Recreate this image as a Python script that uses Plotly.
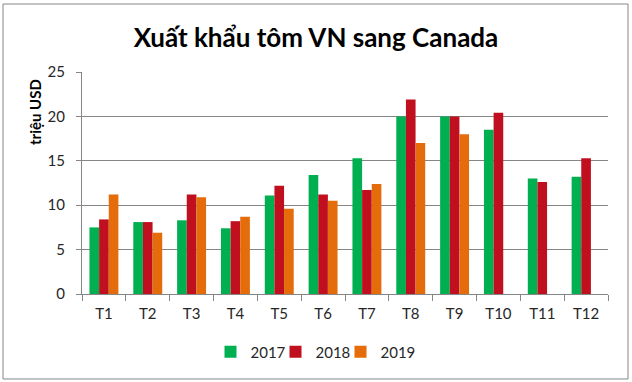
import plotly.graph_objects as go

months = ["T1", "T2", "T3", "T4", "T5", "T6", "T7", "T8", "T9", "T10", "T11", "T12"]
v2017 = [7.5, 8.1, 8.3, 7.4, 11.1, 13.4, 15.3, 20.0, 20.0, 18.5, 13.0, 13.2]
v2018 = [8.4, 8.1, 11.2, 8.2, 12.2, 11.2, 11.7, 21.9, 20.0, 20.4, 12.6, 15.3]
v2019 = [11.2, 6.9, 10.9, 8.7, 9.6, 10.5, 12.4, 17.0, 18.0, None, None, None]
series_names = ["2017", "2018", "2019"]
colors = ["#00B050", "#C0101F", "#E46C0A"]

W, H = 632, 382
L, R, T, B = 82, 24, 72, 88  # plot area margins in px
pw, ph = W - L - R, H - T - B

fig = go.Figure()
for name, vals, c in zip(series_names, [v2017, v2018, v2019], colors):
    fig.add_trace(go.Bar(x=months, y=vals, name=name, marker=dict(color=c, line=dict(width=0))))
# invisible spacer entry so the last legend label is not clipped with compact entry widths
fig.add_trace(go.Scatter(x=[None], y=[None], mode="lines", name=" ",
                         line=dict(color="rgba(0,0,0,0)", width=0),
                         hoverinfo="skip", showlegend=True))

font_family = "Lato, Open Sans, sans-serif"

def px_x(p):
    return (p - L) / pw

def px_y(q):
    return (T + ph - q) / ph

fig.update_layout(
    width=W, height=H,
    margin=dict(l=L, r=R, t=T, b=B),
    paper_bgcolor="white", plot_bgcolor="white",
    barmode="group", bargap=0.34, bargroupgap=0,
    font=dict(family=font_family, size=15, color="#262626"),
    title=dict(text="<b>Xuất khẩu tôm VN sang Canada</b>", x=0.5, xref="container", xanchor="center",
               y=1 - 38 / H, yref="container", yanchor="middle",
               font=dict(family=font_family, size=26, color="black")),
    xaxis=dict(showline=True, linecolor="#868686", linewidth=1, ticks="outside", tickson="boundaries",
               ticklen=6, tickcolor="#868686", showgrid=False, ticklabelstandoff=6),
    yaxis=dict(range=[0, 25], dtick=5, showline=True, linecolor="#868686", linewidth=1,
               ticks="outside", ticklen=5, tickcolor="#868686", gridcolor="#868686", gridwidth=1,
               zeroline=False, ticklabelstandoff=8),
    legend=dict(orientation="h", x=210.5 / W, xref="container", xanchor="left", y=1 - 352 / H, yref="container",
                yanchor="middle", font=dict(size=15), itemwidth=30, traceorder="normal",
                entrywidth=20, entrywidthmode="pixels"),
    annotations=[dict(text="<b>triệu USD</b>", textangle=-90, x=px_x(35), y=px_y(112), xref="paper", yref="paper",
                      showarrow=False, font=dict(size=15, color="black"), xanchor="center", yanchor="middle")],
    shapes=[dict(type="rect", xref="paper", yref="paper", x0=px_x(3), x1=px_x(628), y0=px_y(379), y1=px_y(4),
                 line=dict(color="#868686", width=1), layer="below")],
)

fig.write_html("out.html", config={"displayModeBar": False},
               post_script="document.body.style.margin='0';")
